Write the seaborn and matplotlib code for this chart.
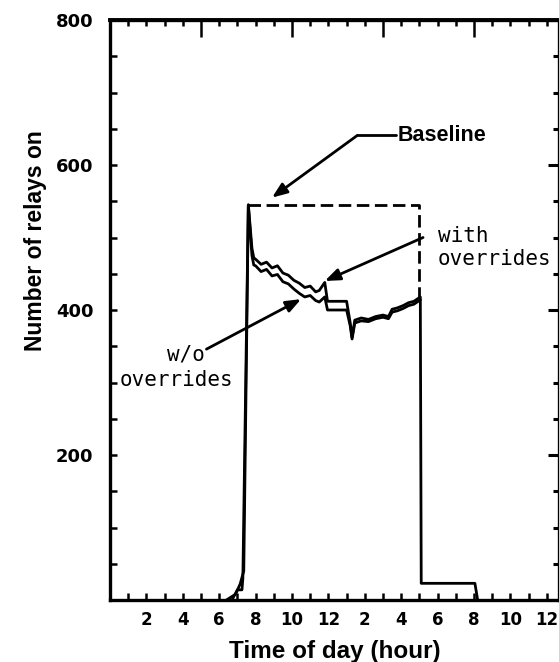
import numpy as np
import pandas as pd
import seaborn as sns
import matplotlib.pyplot as plt
from matplotlib.ticker import MultipleLocator, FixedLocator

# Hours since midnight and number of relays on
with_t = [6.4, 6.9, 7.15, 7.35, 7.6, 7.8, 7.9, 8.0, 8.3, 8.6, 8.9, 9.2, 9.5, 9.8, 10.1,
          10.4, 10.7, 11.0, 11.3, 11.5, 11.8, 11.95, 13.0, 13.2, 13.3, 13.45, 13.8, 14.2,
          14.6, 15.0, 15.3, 15.5, 15.8, 16.1, 16.4, 16.7, 17.05, 17.1, 20.05, 20.2]
with_v = [0, 8, 22, 40, 545, 485, 472, 470, 463, 466, 458, 461, 451, 448, 441,
          437, 431, 433, 425, 427, 438, 412, 412, 382, 362, 386, 389, 387,
          391, 393, 391, 401, 403, 406, 410, 412, 418, 23, 23, 0]

wo_t = [6.7, 7.0, 7.25, 7.3, 7.6, 7.8, 7.9, 8.0, 8.3, 8.6, 8.9, 9.2, 9.5, 9.8, 10.1,
        10.4, 10.7, 11.0, 11.3, 11.5, 11.8, 11.95, 13.0, 13.2, 13.3, 13.45, 13.8, 14.2,
        14.6, 15.0, 15.3, 15.5, 15.8, 16.1, 16.4, 16.7, 17.05]
wo_v = [0, 14, 14, 30, 545, 475, 462, 461, 453, 456, 447, 449, 439, 436, 429,
        423, 418, 420, 413, 411, 418, 400, 400, 378, 360, 382, 385, 384,
        388, 390, 388, 397, 399, 402, 406, 408, 414]

base_t = [7.6, 17.0, 17.0]
base_v = [545, 545, 418]

xtick_pos = [2, 4, 6, 8, 10, 12, 14, 16, 18, 20, 22, 24]
xtick_lab = ['2', '4', '6', '8', '10', '12', '2', '4', '6', '8', '10', '12']
ytick_pos = [200, 400, 600, 800]

sns.set_style("ticks")
plt.rcParams['font.family'] = ['Liberation Sans', 'DejaVu Sans']
plt.rcParams['font.weight'] = 'bold'
for key in ['text.color', 'axes.labelcolor', 'xtick.color', 'ytick.color', 'axes.edgecolor']:
    plt.rcParams[key] = 'black'

fig = plt.figure(figsize=(5.59, 6.62), dpi=100)
ax = fig.add_axes([110 / 559, 62 / 662, 449 / 559, 580 / 662])

sns.lineplot(x=with_t, y=with_v, ax=ax, color='black', lw=2.0,
             estimator=None, sort=False)
sns.lineplot(x=wo_t, y=wo_v, ax=ax, color='black', lw=2.0,
             estimator=None, sort=False)
sns.lineplot(x=base_t, y=base_v, ax=ax, color='black', lw=2.0,
             estimator=None, sort=False, dashes=False, linestyle=(0, (4.5, 2.0)))

ax.set_xlim(0, 24.67)
ax.set_ylim(0, 800)

for s in ax.spines.values():
    s.set_linewidth(2.4)

tickfont = {'family': 'DejaVu Sans', 'weight': 'bold'}

# bottom: ticks every hour, labels every 2 h
ax.xaxis.set_major_locator(FixedLocator(xtick_pos))
ax.set_xticklabels(xtick_lab, fontdict=tickfont, fontsize=12)
ax.xaxis.set_minor_locator(MultipleLocator(1))
ax.tick_params(axis='x', which='both', direction='in', length=5, width=1.8,
               pad=8, top=False)

# left: ticks every 50
ax.yaxis.set_major_locator(FixedLocator(ytick_pos))
ax.set_yticklabels([str(v) for v in ytick_pos], fontdict=tickfont, fontsize=13)
ax.yaxis.set_minor_locator(MultipleLocator(50))
ax.tick_params(axis='y', which='both', direction='in', length=5, width=1.8,
               pad=12, right=False)

# top axis: long ticks every 5 h, short every hour
top = ax.secondary_xaxis('top')
top.xaxis.set_major_locator(MultipleLocator(5))
top.xaxis.set_minor_locator(MultipleLocator(1))
top.tick_params(which='major', direction='in', length=12, width=1.8, labeltop=False)
top.tick_params(which='minor', direction='in', length=4, width=1.8)
top.spines['top'].set_linewidth(2.8)

right = ax.secondary_yaxis('right')
right.yaxis.set_major_locator(MultipleLocator(200))
right.yaxis.set_minor_locator(MultipleLocator(50))
right.tick_params(which='major', direction='in', length=8, width=2.2, labelright=False)
right.tick_params(which='minor', direction='in', length=4, width=2.2)

ax.set_xlabel('Time of day (hour)', fontsize=17.5, fontweight='bold', labelpad=8)
ax.set_ylabel('Number of relays on', fontsize=16.5, fontweight='bold')
ax.yaxis.set_label_coords(-0.14, 0.62)

mono = {'family': 'DejaVu Sans Mono', 'size': 15, 'weight': 'normal'}
arrow = dict(arrowstyle='-|>,head_length=0.9,head_width=0.35', color='black', lw=2.0,
             shrinkA=0, shrinkB=0)

ax.plot([13.6, 15.7], [641, 641], color='black', lw=2.0)
ax.annotate('', xy=(8.9, 555), xytext=(13.6, 641), arrowprops=arrow)
ax.text(15.8, 641, 'Baseline', fontsize=15.5, fontweight='bold', va='center', ha='left')

ax.annotate('', xy=(11.8, 440), xytext=(17.2, 500), arrowprops=arrow)
ax.text(18.0, 486, 'with\noverrides', fontdict=mono, va='center', ha='left',
        linespacing=1.2)

ax.annotate('', xy=(10.5, 415), xytext=(5.3, 346), arrowprops=arrow)
ax.text(5.2, 339, 'w/o', fontdict=mono, va='center', ha='right')
ax.text(6.75, 304, 'overrides', fontdict=mono, va='center', ha='right')

fig.savefig('out.png', dpi=100)
